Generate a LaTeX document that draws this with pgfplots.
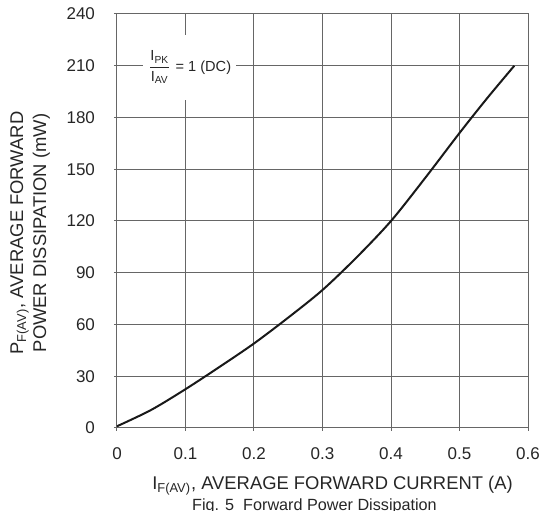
\documentclass[border=0pt]{standalone}
\usepackage{pgfplots}
\pgfplotsset{compat=1.18}
\usepackage{fontspec}
\setmainfont{Liberation Sans}
\setsansfont{Liberation Sans}
\begin{document}
\begin{tikzpicture}
\begin{axis}[
    name=ax,
    scale only axis,
    width=205.5pt,
    height=207pt,
    xmin=0, xmax=0.6,
    ymin=0, ymax=240,
    xtick={0,0.1,0.2,0.3,0.4,0.5,0.6},
    xticklabels={0,0.1,0.2,0.3,0.4,0.5,0.6},
    ytick={0,30,60,90,120,150,180,210,240},
    tick align=outside,
    major tick length=1.5pt,
    xtick pos=bottom, ytick pos=left,
    tick style={line width=0.5pt, color=black!60},
    grid=major,
    grid style={line width=0.5pt, color=black!60},
    axis line style={line width=0.5pt, color=black!60},
    /pgf/number format/assume math mode=true,
    tick label style={font=\fontsize{8.5}{10}\selectfont, color=black!85},
    xticklabel style={yshift=-5pt},
    yticklabel style={xshift=-6pt},
    clip=false,
]
\addplot[black!90, line width=1pt, smooth, tension=0.5] coordinates {
    (0,1) (0.05,10.5) (0.1,22.5) (0.15,35.5) (0.2,49) (0.25,64)
    (0.3,80) (0.35,99) (0.4,120) (0.45,145) (0.5,171) (0.54,191)
    (0.58,210)
};
\node[fill=white, inner xsep=2.5pt, inner ysep=8pt, text=black!85,
      font=\fontsize{7.3}{8.5}\selectfont]
    at (axis cs:0.106,209)
    {$\displaystyle\frac{\hbox{I\textsubscript{PK}}}{\hbox{I\textsubscript{AV}}}$ = 1 (DC)};
\end{axis}
% axis titles and caption
\node[anchor=north, inner sep=0pt, text=black!85, font=\fontsize{9.2}{11}\selectfont]
    at ([xshift=5pt, yshift=-24pt]ax.south)
    {I\textsubscript{F(AV)}, AVERAGE FORWARD CURRENT (A)};
\node[anchor=north, inner sep=0pt, text=black!85, font=\fontsize{8.1}{10}\selectfont]
    at ([xshift=-4pt, yshift=-35pt]ax.south)
    {Fig. 5\ \ Forward Power Dissipation};
\node[rotate=90, align=center, inner sep=0pt, text=black!85,
      font=\fontsize{9.2}{11.5}\selectfont]
    at ([xshift=-43.5pt, yshift=-6pt]ax.west)
    {P\textsubscript{F(AV)}, AVERAGE FORWARD\\POWER DISSIPATION (mW)};
\pgfresetboundingbox
\path[use as bounding box] ([shift={(-58.5pt,-41.5pt)}]ax.south west)
    rectangle ([shift={(6.5pt,7pt)}]ax.north east);
\end{tikzpicture}
\end{document}
